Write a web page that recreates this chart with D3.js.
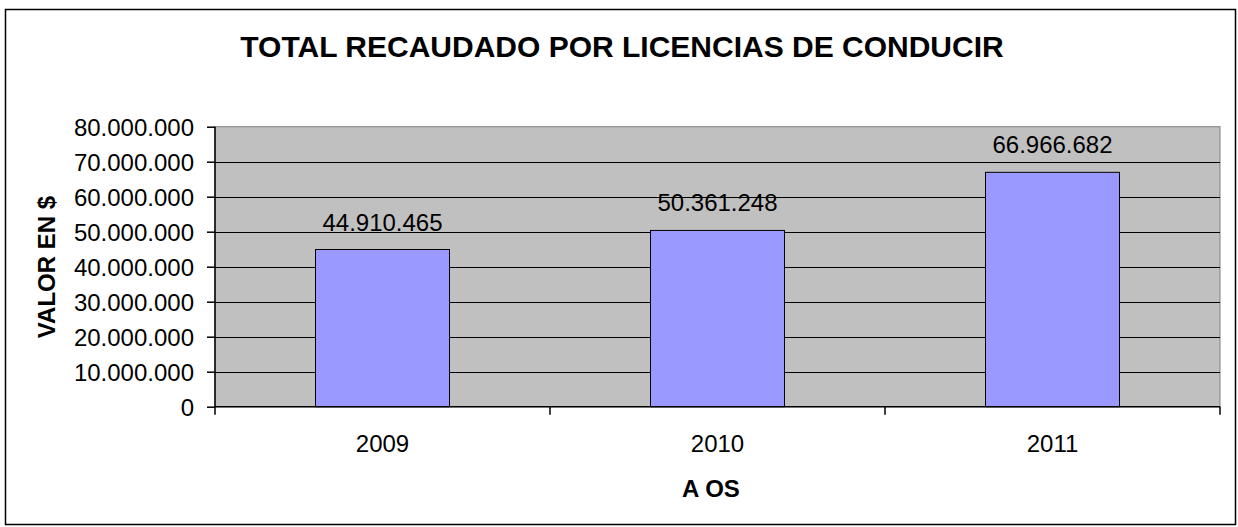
<!DOCTYPE html>
<html>
<head>
<meta charset="utf-8">
<script src="https://cdn.jsdelivr.net/npm/d3@7"></script>
<style>
  html, body { margin: 0; padding: 0; background: #fff; }
  svg { display: block; font-family: "Liberation Sans", Arial, sans-serif; }
</style>
</head>
<body>
<svg id="chart" width="1238" height="527"></svg>
<script>
// ---- data ----
const categories = ["2009", "2010", "2011"];
const values = [44910465, 50361248, 66966682];
const yTicks = [0, 10000000, 20000000, 30000000, 40000000, 50000000, 60000000, 70000000, 80000000];
const chartTitle = "TOTAL RECAUDADO POR LICENCIAS DE CONDUCIR";
const yTitle = "VALOR EN $";
const xTitle = "A OS";

// ---- layout ----
const svg = d3.select("#chart");
const plot = { left: 215, right: 1220, top: 126.7, bottom: 406.7 };

const fmt = v => v === 0 ? "0" : d3.format(",")(v).replace(/,/g, ".");

// outer border
svg.append("rect")
  .attr("x", 5.5).attr("y", 9.5).attr("width", 1230).attr("height", 515)
  .attr("fill", "#fff").attr("stroke", "#000").attr("stroke-width", 1.5);

const x = d3.scaleBand().domain(categories).range([plot.left, plot.right]).padding(0);
const y = d3.scaleLinear().domain([0, 80000000]).range([plot.bottom, plot.top]);

// plot background
svg.append("rect")
  .attr("x", plot.left).attr("y", plot.top)
  .attr("width", plot.right - plot.left).attr("height", plot.bottom - plot.top)
  .attr("fill", "#C0C0C0").attr("stroke", "#808080").attr("stroke-width", 1);

// gridlines
svg.append("g").selectAll("line")
  .data(yTicks.filter(t => t > 0 && t < 80000000))
  .join("line")
  .attr("x1", plot.left).attr("x2", plot.right)
  .attr("y1", d => Math.round(y(d)) + 0.5).attr("y2", d => Math.round(y(d)) + 0.5)
  .attr("stroke", "#000").attr("stroke-width", 1);

// bars
const barW = x.bandwidth() * 0.4;
svg.append("g").selectAll("rect")
  .data(categories)
  .join("rect")
  .attr("x", (d) => x(d) + (x.bandwidth() - barW) / 2)
  .attr("y", (d, i) => y(values[i]))
  .attr("width", barW)
  .attr("height", (d, i) => plot.bottom - y(values[i]))
  .attr("fill", "#9999FF")
  .attr("stroke", "#000").attr("stroke-width", 1);

// data labels
svg.append("g").selectAll("text")
  .data(categories)
  .join("text")
  .attr("x", d => x(d) + x.bandwidth() / 2)
  .attr("y", (d, i) => y(values[i]) - 19)
  .attr("text-anchor", "middle")
  .attr("font-size", 24)
  .attr("fill", "#000")
  .text((d, i) => fmt(values[i]));

// y axis
const yAxis = d3.axisLeft(y).tickValues(yTicks).tickFormat(fmt).tickSize(8).tickPadding(13);
const gy = svg.append("g").attr("transform", `translate(${plot.left},0)`).call(yAxis);
gy.select(".domain").attr("stroke", "#000").attr("stroke-width", 1.5).attr("d", `M0,${plot.top}V${plot.bottom}`);
gy.selectAll(".tick line").attr("stroke", "#000").attr("stroke-width", 1.5);
gy.selectAll(".tick text").attr("font-size", 24).attr("fill", "#000")
  .attr("font-family", "'Liberation Sans', Arial, sans-serif").attr("dy", "0.36em");

// x axis (category boundaries ticks)
const gx = svg.append("g").attr("transform", `translate(0,${plot.bottom})`);
gx.append("line").attr("x1", plot.left).attr("x2", plot.right).attr("y1", 0).attr("y2", 0)
  .attr("stroke", "#000").attr("stroke-width", 1.5);
const boundaries = categories.map(c => x(c)).concat([x(categories[categories.length - 1]) + x.bandwidth()]);
gx.selectAll("line.tk").data(boundaries).join("line").attr("class", "tk")
  .attr("x1", d => d).attr("x2", d => d).attr("y1", 0).attr("y2", 8)
  .attr("stroke", "#000").attr("stroke-width", 1.5);
gx.selectAll("text").data(categories).join("text")
  .attr("x", d => x(d) + x.bandwidth() / 2)
  .attr("y", 452 - plot.bottom)
  .attr("text-anchor", "middle").attr("font-size", 24).attr("fill", "#000")
  .text(d => d);

// titles
svg.append("text").attr("x", 622).attr("y", 57).attr("text-anchor", "middle")
  .attr("font-size", 30).attr("font-weight", "bold").attr("fill", "#000").text(chartTitle);

svg.append("text").attr("transform", "translate(55,267) rotate(-90)").attr("text-anchor", "middle")
  .attr("font-size", 24).attr("font-weight", "bold").attr("fill", "#000").text(yTitle);

svg.append("text").attr("x", 711).attr("y", 497).attr("text-anchor", "middle")
  .attr("font-size", 24).attr("font-weight", "bold").attr("fill", "#000").text(xTitle);
</script>
</body>
</html>
